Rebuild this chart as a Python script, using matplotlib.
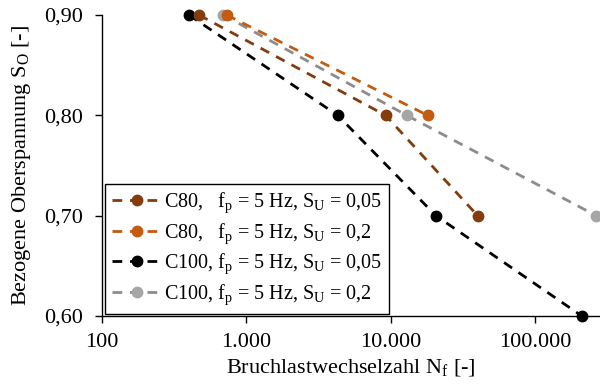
import numpy as np
import matplotlib.pyplot as plt
from matplotlib.ticker import FixedLocator, FuncFormatter

plt.rcParams['font.family'] = ['Liberation Serif', 'DejaVu Serif']
plt.rcParams['mathtext.fontset'] = 'custom'
plt.rcParams['mathtext.rm'] = 'Liberation Serif'
plt.rcParams['mathtext.it'] = 'Liberation Serif:italic'

# Daten
so_c80_005 = [0.90, 0.80, 0.70]
nf_c80_005 = [469, 9180, 39800]
so_c80_02 = [0.90, 0.80]
nf_c80_02 = [729, 17950]
so_c100_005 = [0.90, 0.80, 0.70, 0.60]
nf_c100_005 = [400, 4280, 20450, 209000]
so_c100_02 = [0.90, 0.80, 0.70]
nf_c100_02 = [692, 12850, 263000]

labels = [r'C80,   f$_\mathrm{p}$ = 5 Hz, S$_\mathrm{U}$ = 0,05',
          r'C80,   f$_\mathrm{p}$ = 5 Hz, S$_\mathrm{U}$ = 0,2',
          r'C100, f$_\mathrm{p}$ = 5 Hz, S$_\mathrm{U}$ = 0,05',
          r'C100, f$_\mathrm{p}$ = 5 Hz, S$_\mathrm{U}$ = 0,2']

fig = plt.figure(figsize=(6, 3.9), dpi=100)
ax = fig.add_axes([0.17, 0.19, 0.83, 0.7715])

series = [
    (nf_c80_005, so_c80_005, '#843C0C', '#843C0C'),
    (nf_c80_02, so_c80_02, '#C55A11', '#C55A11'),
    (nf_c100_005, so_c100_005, 'black', 'black'),
    (nf_c100_02, so_c100_02, '#8C8C8C', '#A6A6A6'),
]
# zeichnen in umgekehrter Reihenfolge, damit C80 oben liegt wie im Original
order = [2, 3, 0, 1]
handles = [None] * 4
for i in order:
    nf, so, lc, mc = series[i]
    h, = ax.plot(nf, so, linestyle=(0, (3.5, 2.8)), color=lc, lw=2.0,
                 marker='o', ms=7.5, markerfacecolor=mc, markeredgecolor=mc,
                 label=labels[i], clip_on=False)
    handles[i] = h

ax.set_xscale('log')
ax.set_xlim(100, 2.8e5)
ax.set_ylim(0.60, 0.90)

ax.xaxis.set_major_locator(FixedLocator([100, 1000, 10000, 100000]))
ax.xaxis.set_minor_locator(FixedLocator([]))
ax.xaxis.set_major_formatter(FuncFormatter(lambda v, p: f'{int(round(v)):,}'.replace(',', '.')))
ax.yaxis.set_major_locator(FixedLocator([0.60, 0.70, 0.80, 0.90]))
ax.yaxis.set_major_formatter(FuncFormatter(lambda v, p: f'{v:.2f}'.replace('.', ',')))

for s in ['top', 'right']:
    ax.spines[s].set_visible(False)
for s in ['left', 'bottom']:
    ax.spines[s].set_linewidth(1.0)
ax.tick_params(axis='both', direction='out', length=5, width=1.0, labelsize=16)
ax.tick_params(axis='x', pad=7)
ax.tick_params(axis='y', pad=9)

ax.set_xlabel(r'Bruchlastwechselzahl N$_\mathrm{f}$ [-]', fontsize=16, labelpad=4)
ax.set_ylabel(r'Bezogene Oberspannung S$_\mathrm{O}$ [-]', fontsize=16, labelpad=8)

leg = ax.legend(handles=handles, loc='lower left', bbox_to_anchor=(0.006, 0.007),
                borderaxespad=0, fontsize=14.5, handlelength=2.5, handletextpad=0.1,
                fancybox=False, edgecolor='black', framealpha=1,
                labelspacing=0.3, borderpad=0.35)
leg.get_frame().set_linewidth(1.0)

fig.savefig('out.png', dpi=100)
